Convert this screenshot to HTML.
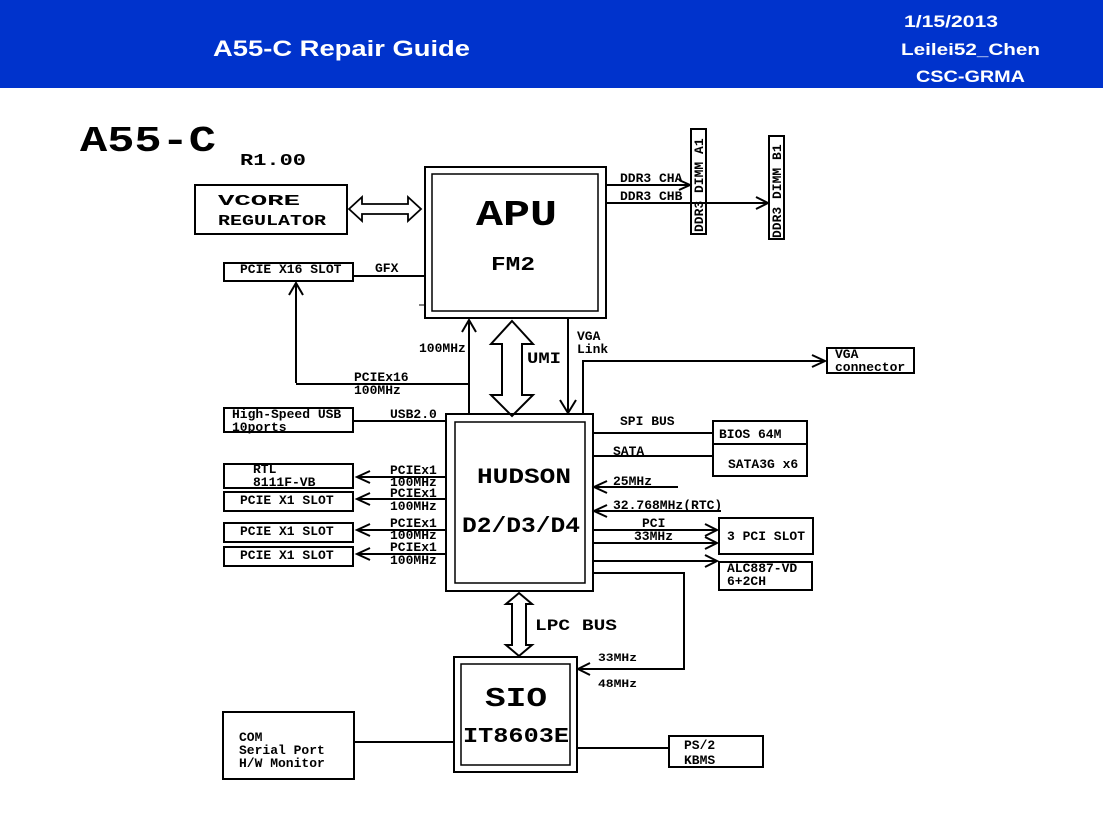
<!DOCTYPE html>
<html><head><meta charset="utf-8"><style>
html,body{margin:0;padding:0;background:#fff;width:1103px;height:818px;overflow:hidden}
svg{display:block}
.m{font-family:"Liberation Mono",monospace;font-weight:bold;fill:#000}
.h{font-family:"Liberation Sans Narrow","Liberation Sans",sans-serif;font-weight:bold;fill:#fff}
</style></head><body>
<svg width="1103" height="818" viewBox="0 0 1103 818" xmlns="http://www.w3.org/2000/svg">
<rect x="0" y="0" width="1103" height="88" fill="#0033cc"/>
<text x="213" y="56" class="h" font-size="22" textLength="257" lengthAdjust="spacingAndGlyphs">A55-C Repair Guide</text>
<text x="904" y="27" class="h" font-size="17" textLength="94" lengthAdjust="spacingAndGlyphs">1/15/2013</text>
<text x="901" y="55" class="h" font-size="17" textLength="139" lengthAdjust="spacingAndGlyphs">Leilei52_Chen</text>
<text x="916" y="82" class="h" font-size="17" textLength="109" lengthAdjust="spacingAndGlyphs">CSC-GRMA</text>

<text x="80" y="151" class="m" font-size="36" textLength="136" lengthAdjust="spacingAndGlyphs">A55-C</text>
<text x="240" y="165" class="m" font-size="17" textLength="66" lengthAdjust="spacingAndGlyphs">R1.00</text>

<g fill="none" stroke="#000" stroke-width="2">
<rect x="425" y="167" width="181" height="151"/>
<rect x="432" y="174" width="166" height="137" stroke-width="1.5"/>
<rect x="195" y="185" width="152" height="49"/>
<path d="M349,209 L362,197 L362,204 L408,204 L408,197 L421,209 L408,221 L408,214 L362,214 L362,221 Z" stroke-width="1.8"/>
<rect x="224" y="263" width="129" height="18"/>
<line x1="353" y1="276" x2="425" y2="276"/>
<line x1="419" y1="305" x2="425" y2="305" stroke-width="1"/>
<path d="M296,383 L296,283 M289,295 L296,283 L303,295"/>
<path d="M296,384 L469,384 M469,414 L469,320 M462,332 L469,320 L476,332"/>
<path d="M512,321 L533,344 L522,344 L522,395 L533,395 L512,416 L491,395 L502,395 L502,344 L491,344 Z"/>
<path d="M568,318 L568,413 M560,400 L568,413 L576,400"/>
<path d="M583,414 L583,361 L825,361 M812,355 L825,361 L812,367"/>
<rect x="827" y="348" width="87" height="25"/>
<rect x="691" y="129" width="15" height="105"/>
<rect x="769" y="136" width="15" height="103"/>
<path d="M606,185 L690,185 M679,180 L690,185 L679,190"/>
<path d="M606,203 L768,203 M756,197 L768,203 L756,209"/>
<rect x="446" y="414" width="147" height="177"/>
<rect x="455" y="422" width="130" height="161" stroke-width="1.5"/>
<rect x="224" y="408" width="129" height="24"/>
<line x1="353" y1="421" x2="446" y2="421"/>
<rect x="224" y="464" width="129" height="24"/>
<rect x="224" y="492" width="129" height="19"/>
<rect x="224" y="523" width="129" height="19"/>
<rect x="224" y="547" width="129" height="19"/>
<path d="M446,477 L357,477 M370,471 L357,477 L370,483"/>
<path d="M446,499 L357,499 M370,493 L357,499 L370,505"/>
<path d="M446,530 L357,530 M370,524 L357,530 L370,536"/>
<path d="M446,554 L357,554 M370,548 L357,554 L370,560"/>
<line x1="593" y1="433" x2="713" y2="433"/>
<line x1="593" y1="456" x2="713" y2="456"/>
<rect x="713" y="421" width="94" height="55"/>
<line x1="713" y1="444" x2="807" y2="444"/>
<path d="M678,487 L594,487 M607,481 L594,487 L607,493"/>
<path d="M721,511 L594,511 M607,505 L594,511 L607,517"/>
<path d="M593,530 L717,530 M705,524 L717,530 L705,536"/>
<path d="M593,543 L717,543 M705,537 L717,543 L705,549"/>
<rect x="719" y="518" width="94" height="36"/>
<path d="M593,561 L717,561 M705,555 L717,561 L705,567"/>
<rect x="719" y="562" width="93" height="28"/>
<path d="M593,573 L684,573 L684,669 L578,669 M590,663 L578,669 L590,675"/>
<path d="M519,593 L532,604 L526,604 L526,645 L532,645 L519,656 L506,645 L512,645 L512,604 L506,604 Z"/>
<rect x="454" y="657" width="123" height="115"/>
<rect x="461" y="664" width="109" height="101" stroke-width="1.5"/>
<rect x="223" y="712" width="131" height="67"/>
<line x1="354" y1="742" x2="454" y2="742"/>
<line x1="577" y1="748" x2="669" y2="748"/>
<rect x="669" y="736" width="94" height="31"/>
</g>

<text x="476" y="225" class="m" font-size="36" textLength="81" lengthAdjust="spacingAndGlyphs">APU</text>
<text x="491" y="270" class="m" font-size="19" textLength="44" lengthAdjust="spacingAndGlyphs">FM2</text>
<text x="218" y="205" class="m" font-size="15" textLength="82" lengthAdjust="spacingAndGlyphs">VCORE</text>
<text x="218" y="225" class="m" font-size="15" textLength="108" lengthAdjust="spacingAndGlyphs">REGULATOR</text>
<g class="m" font-size="13">
<text x="240" y="273">PCIE X16 SLOT</text>
<text x="375" y="272">GFX</text>
<text x="419" y="352">100MHz</text>
<text x="354" y="381">PCIEx16</text>
<text x="354" y="394">100MHz</text>
<text x="577" y="340">VGA</text>
<text x="577" y="353">Link</text>
<text x="835" y="358">VGA</text>
<text x="835" y="371">connector</text>
<text x="620" y="182">DDR3 CHA</text>
<text x="620" y="200">DDR3 CHB</text>
<text transform="translate(703,232) rotate(-90)">DDR3 DIMM A1</text>
<text transform="translate(781,238) rotate(-90)">DDR3 DIMM B1</text>
<text x="232" y="418">High-Speed USB</text>
<text x="232" y="431">10ports</text>
<text x="390" y="418">USB2.0</text>
<text x="253" y="473">RTL</text>
<text x="253" y="486">8111F-VB</text>
<text x="240" y="504">PCIE X1 SLOT</text>
<text x="240" y="535">PCIE X1 SLOT</text>
<text x="240" y="559">PCIE X1 SLOT</text>
<text x="390" y="474">PCIEx1</text>
<text x="390" y="486">100MHz</text>
<text x="390" y="497">PCIEx1</text>
<text x="390" y="510">100MHz</text>
<text x="390" y="527">PCIEx1</text>
<text x="390" y="539">100MHz</text>
<text x="390" y="551">PCIEx1</text>
<text x="390" y="564">100MHz</text>
<text x="620" y="425">SPI BUS</text>
<text x="613" y="455">SATA</text>
<text x="719" y="438">BIOS  64M</text>
<text x="728" y="468">SATA3G x6</text>
<text x="613" y="485">25MHz</text>
<text x="613" y="509">32.768MHz(RTC)</text>
<text x="642" y="527">PCI</text>
<text x="634" y="540">33MHz</text>
<text x="727" y="540">3 PCI SLOT</text>
<text x="727" y="572">ALC887-VD</text>
<text x="727" y="585">6+2CH</text>
<text x="239" y="741">COM</text>
<text x="239" y="754">Serial Port</text>
<text x="239" y="767">H/W Monitor</text>
<text x="684" y="749">PS/2</text>
<text x="684" y="764">KBMS</text>
</g>
<text x="598" y="661" class="m" font-size="11" textLength="39" lengthAdjust="spacingAndGlyphs">33MHz</text>
<text x="598" y="687" class="m" font-size="11" textLength="39" lengthAdjust="spacingAndGlyphs">48MHz</text>
<text x="527" y="363" class="m" font-size="16" textLength="34" lengthAdjust="spacingAndGlyphs">UMI</text>
<text x="477" y="483" class="m" font-size="22" textLength="94" lengthAdjust="spacingAndGlyphs">HUDSON</text>
<text x="462" y="532" class="m" font-size="22" textLength="118" lengthAdjust="spacingAndGlyphs">D2/D3/D4</text>
<text x="535" y="630" class="m" font-size="16" textLength="82" lengthAdjust="spacingAndGlyphs">LPC BUS</text>
<text x="485" y="706" class="m" font-size="27" textLength="62" lengthAdjust="spacingAndGlyphs">SIO</text>
<text x="463" y="742" class="m" font-size="21" textLength="106" lengthAdjust="spacingAndGlyphs">IT8603E</text>
</svg>
</body></html>
